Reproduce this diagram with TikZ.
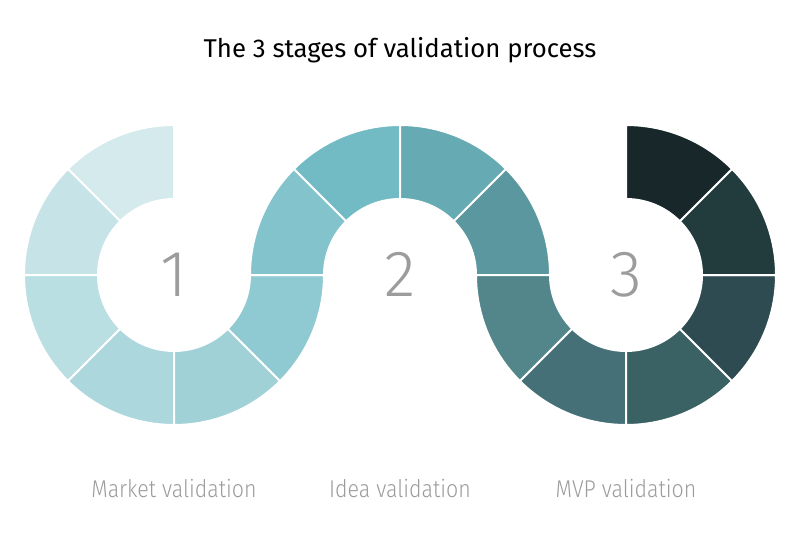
\documentclass[tikz,border=0pt]{standalone}
\usepackage{fontspec}
\setmainfont{Fira Sans}
\newfontfamily\titlefont{Fira Sans}
\IfFontExistsTF{Fira Sans Light}{%
  \newfontfamily\thinfont{Fira Sans Light}%
  \newfontfamily\narrowfont{Fira Sans Light}[FakeStretch=0.88]}{%
  \newfontfamily\thinfont{Fira Sans}%
  \newfontfamily\narrowfont{Fira Sans}[FakeStretch=0.88]}
\usetikzlibrary{calc}

% segment colours, light to dark
\definecolor{seg1}{HTML}{D4EAED}
\definecolor{seg2}{HTML}{C6E3E8}
\definecolor{seg3}{HTML}{BADFE3}
\definecolor{seg4}{HTML}{ACD7DD}
\definecolor{seg5}{HTML}{9FD1D7}
\definecolor{seg6}{HTML}{8FCAD3}
\definecolor{seg7}{HTML}{82C3CC}
\definecolor{seg8}{HTML}{72BBC5}
\definecolor{seg9}{HTML}{66AAB3}
\definecolor{seg10}{HTML}{5B979E}
\definecolor{seg11}{HTML}{52868B}
\definecolor{seg12}{HTML}{467077}
\definecolor{seg13}{HTML}{3A6264}
\definecolor{seg14}{HTML}{2E4B51}
\definecolor{seg15}{HTML}{223B3D}
\definecolor{seg16}{HTML}{18272A}
\definecolor{labelgray}{HTML}{9C9C9C}

\tikzstyle{segment} = [draw=white, line width=1.5pt]
\tikzstyle{title} = [anchor=base, font=\titlefont\fontsize{19.3}{22}\selectfont, text=black]
\tikzstyle{number} = [anchor=base, font=\thinfont\fontsize{49}{50}\selectfont, text=labelgray]
\tikzstyle{caption} = [anchor=base, font=\narrowfont\fontsize{18.2}{20}\selectfont, text=labelgray]

% #1 centre x, #2 start angle, #3 end angle, #4 colour
\newcommand{\ringpart}[4]{%
  \filldraw[segment, fill=#4] (#1,258) ++(#2:150) arc[start angle=#2, end angle=#3, radius=150]
    -- ($(#1,258)+(#3:76)$) arc[start angle=#3, end angle=#2, radius=76] -- cycle;}

\begin{document}
\begin{tikzpicture}[x=0.75pt, y=0.75pt]
    \useasboundingbox (0,0) rectangle (800,533);

    % first ring
    \ringpart{174}{90}{135}{seg1}
    \ringpart{174}{135}{180}{seg2}
    \ringpart{174}{180}{225}{seg3}
    \ringpart{174}{225}{270}{seg4}
    \ringpart{174}{270}{315}{seg5}
    \ringpart{174}{315}{360}{seg6}
    % second ring
    \ringpart{400}{180}{135}{seg7}
    \ringpart{400}{135}{90}{seg8}
    \ringpart{400}{90}{45}{seg9}
    \ringpart{400}{45}{0}{seg10}
    % third ring
    \ringpart{626}{180}{225}{seg11}
    \ringpart{626}{225}{270}{seg12}
    \ringpart{626}{270}{315}{seg13}
    \ringpart{626}{315}{360}{seg14}
    \ringpart{626}{0}{45}{seg15}
    \ringpart{626}{45}{90}{seg16}

    \node (title) at (400,475) [title] {The 3 stages of validation process};

    \node (stage-one) at (174,237) [number] {1};
    \node (stage-two) at (400,237) [number] {2};
    \node (stage-three) at (626,237) [number] {3};

    \node (market) at (174,36) [caption] {Market validation};
    \node (idea) at (400,36) [caption] {Idea validation};
    \node (mvp) at (626,36) [caption] {MVP validation};
  \end{tikzpicture}
\end{document}
